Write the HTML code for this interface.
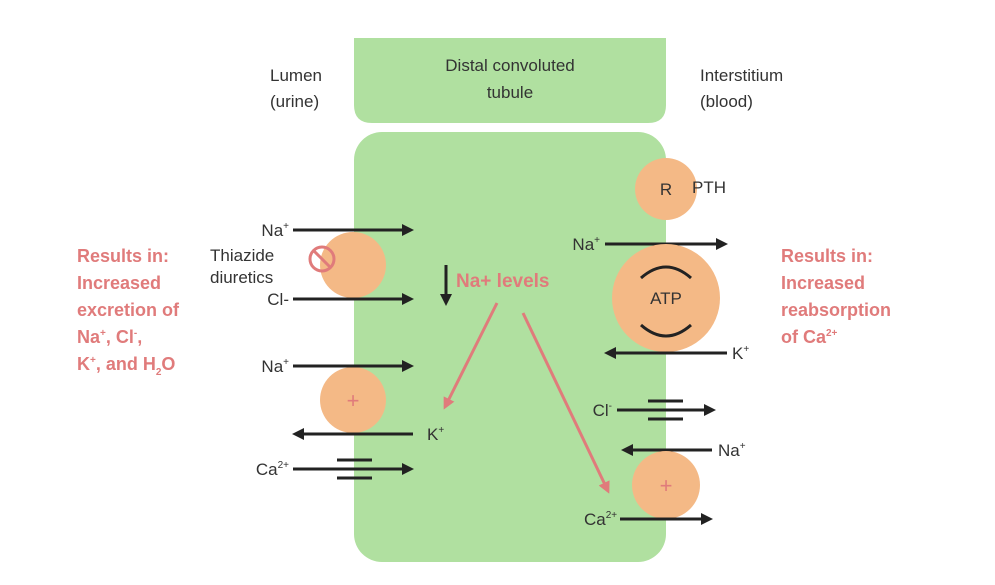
<!DOCTYPE html>
<html><head><meta charset="utf-8"><style>
body{margin:0;background:#fff;}
svg{display:block;font-family:"Liberation Sans",sans-serif;}
.t{font-size:17px;fill:#333;}
.p{font-size:18px;fill:#e07b7b;font-weight:bold;}
.a{stroke:#222;stroke-width:3;fill:none;}
</style></head><body>
<svg width="995" height="585" viewBox="0 0 995 585">
<defs>
<marker id="ah" markerWidth="12" markerHeight="12" refX="8" refY="6" orient="auto" markerUnits="userSpaceOnUse"><path d="M0,0 L12,6 L0,12 Z" fill="#222"/></marker>
<marker id="ap" markerWidth="12" markerHeight="12" refX="9" refY="6" orient="auto" markerUnits="userSpaceOnUse"><path d="M0,0 L12,6 L0,12 Z" fill="#e07b7b"/></marker>
</defs>
<path d="M354,38 H666 V105 Q666,123 648,123 H372 Q354,123 354,105 Z" fill="#b0e0a0"/>
<rect x="354" y="132" width="312" height="430" rx="28" fill="#b0e0a0"/>
<text class="t" x="510" y="71" text-anchor="middle">Distal convoluted</text>
<text class="t" x="510" y="98" text-anchor="middle">tubule</text>
<text class="t" x="270" y="81">Lumen</text>
<text class="t" x="270" y="107">(urine)</text>
<text class="t" x="700" y="81">Interstitium</text>
<text class="t" x="700" y="107">(blood)</text>

<g>
<text class="p" x="77" y="262">Results in:</text>
<text class="p" x="77" y="289">Increased</text>
<text class="p" x="77" y="316">excretion of</text>
<text class="p" x="77" y="343">Na<tspan font-size="10" dy="-7">+</tspan><tspan dy="7">, Cl</tspan><tspan font-size="10" dy="-7">-</tspan><tspan dy="7">,</tspan></text>
<text class="p" x="77" y="370">K<tspan font-size="10" dy="-7">+</tspan><tspan dy="7">, and H</tspan><tspan font-size="10" dy="5">2</tspan><tspan dy="-5">O</tspan></text>
</g>
<g>
<text class="p" x="781" y="262">Results in:</text>
<text class="p" x="781" y="289">Increased</text>
<text class="p" x="781" y="316">reabsorption</text>
<text class="p" x="781" y="343">of Ca<tspan font-size="10" dy="-7">2+</tspan></text>
</g>

<circle cx="353" cy="265" r="33" fill="#f4b986"/>
<g><circle cx="322" cy="259" r="12" fill="none" stroke="#e07b7b" stroke-width="3"/><line x1="314" y1="251" x2="330" y2="267" stroke="#e07b7b" stroke-width="3"/></g>
<text class="t" x="210" y="261">Thiazide</text>
<text class="t" x="210" y="283">diuretics</text>
<text class="t" x="289" y="236" text-anchor="end">Na<tspan font-size="10" dy="-7">+</tspan></text>
<line class="a" x1="293" y1="230" x2="410" y2="230" marker-end="url(#ah)"/>
<text class="t" x="289" y="305" text-anchor="end">Cl-</text>
<line class="a" x1="293" y1="299" x2="410" y2="299" marker-end="url(#ah)"/>

<circle cx="353" cy="400" r="33" fill="#f4b986"/>
<text x="353" y="408" font-size="22" fill="#e07b7b" text-anchor="middle">+</text>
<text class="t" x="289" y="372" text-anchor="end">Na<tspan font-size="10" dy="-7">+</tspan></text>
<line class="a" x1="293" y1="366" x2="410" y2="366" marker-end="url(#ah)"/>
<line class="a" x1="413" y1="434" x2="296" y2="434" marker-end="url(#ah)"/>
<text class="t" x="427" y="440">K<tspan font-size="10" dy="-7">+</tspan></text>
<text class="t" x="289" y="475" text-anchor="end">Ca<tspan font-size="10" dy="-7">2+</tspan></text>
<line class="a" x1="293" y1="469" x2="410" y2="469" marker-end="url(#ah)"/>
<line class="a" x1="337" y1="460" x2="372" y2="460"/><line class="a" x1="337" y1="478" x2="372" y2="478"/>

<line class="a" x1="446" y1="265" x2="446" y2="302" marker-end="url(#ah)"/>
<text x="456" y="287" font-size="19" font-weight="bold" fill="#e07b7b">Na+ levels</text>
<line x1="497" y1="303" x2="445" y2="407" stroke="#e07b7b" stroke-width="3" marker-end="url(#ap)"/>
<line x1="523" y1="313" x2="608" y2="491" stroke="#e07b7b" stroke-width="3" marker-end="url(#ap)"/>

<circle cx="666" cy="189" r="31" fill="#f4b986"/>
<text class="t" x="666" y="195" text-anchor="middle">R</text>
<text class="t" x="692" y="193">PTH</text>
<text class="t" x="600" y="250" text-anchor="end">Na<tspan font-size="10" dy="-7">+</tspan></text>
<line class="a" x1="605" y1="244" x2="724" y2="244" marker-end="url(#ah)"/>
<circle cx="666" cy="298" r="54" fill="#f4b986"/>
<path d="M641,278 Q666,256 691,278" class="a"/>
<path d="M641,325 Q666,347 691,325" class="a"/>
<text class="t" x="666" y="304" text-anchor="middle">ATP</text>
<line class="a" x1="727" y1="353" x2="608" y2="353" marker-end="url(#ah)"/>
<text class="t" x="732" y="359">K<tspan font-size="10" dy="-7">+</tspan></text>
<text class="t" x="612" y="416" text-anchor="end">Cl<tspan font-size="10" dy="-7">-</tspan></text>
<line class="a" x1="617" y1="410" x2="712" y2="410" marker-end="url(#ah)"/>
<line class="a" x1="648" y1="401" x2="683" y2="401"/><line class="a" x1="648" y1="419" x2="683" y2="419"/>
<line class="a" x1="712" y1="450" x2="625" y2="450" marker-end="url(#ah)"/>
<text class="t" x="718" y="456">Na<tspan font-size="10" dy="-7">+</tspan></text>
<circle cx="666" cy="485" r="34" fill="#f4b986"/>
<text x="666" y="493" font-size="22" fill="#e07b7b" text-anchor="middle">+</text>
<text class="t" x="584" y="525">Ca<tspan font-size="10" dy="-7">2+</tspan></text>
<line class="a" x1="620" y1="519" x2="709" y2="519" marker-end="url(#ah)"/>
</svg>
</body></html>
